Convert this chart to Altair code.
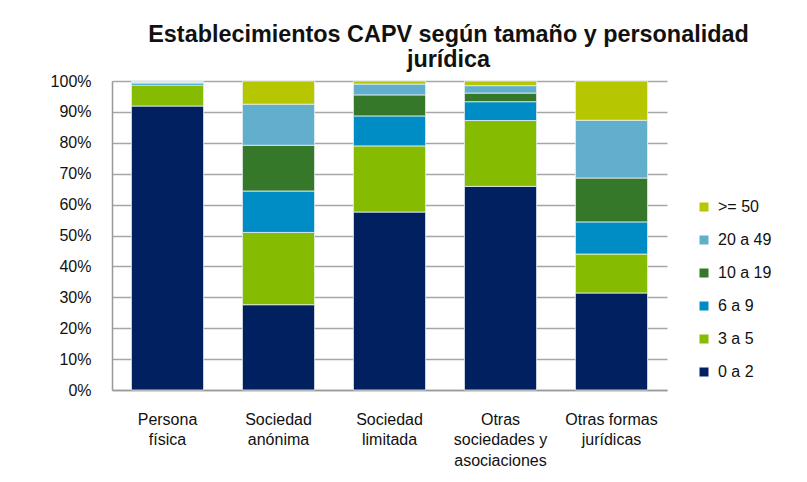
import altair as alt
import pandas as pd

categories = ["Persona\nfísica", "Sociedad\nanónima", "Sociedad\nlimitada",
              "Otras\nsociedades y\nasociaciones", "Otras formas\njurídicas"]
sizes = ["0 a 2", "3 a 5", "6 a 9", "10 a 19", "20 a 49", ">= 50"]
values = {
    "0 a 2":   [91.9, 27.6, 57.6, 65.9, 31.4],
    "3 a 5":   [6.8, 23.4, 21.4, 21.3, 12.6],
    "6 a 9":   [0.6, 13.4, 9.7, 6.1, 10.4],
    "10 a 19": [0.2, 14.8, 6.8, 2.8, 14.2],
    "20 a 49": [0.3, 13.3, 3.5, 2.4, 18.7],
    ">= 50":   [0.2, 7.5, 1.0, 1.5, 12.7],
}
colors = ["#00205F", "#85BB00", "#008CC4", "#35782A", "#62AFCD", "#B6C600"]

rows = []
for si, s in enumerate(sizes):
    for ci, c in enumerate(categories):
        rows.append({"cat": c, "size": s, "ord": si, "val": values[s][ci]})
df = pd.DataFrame(rows)

font = "Liberation Sans"

chart = alt.Chart(df).mark_bar(stroke="#E8F0F4", strokeWidth=0.8).encode(
    x=alt.X("cat:N", sort=categories, title=None,
            scale=alt.Scale(paddingInner=0.35, paddingOuter=0.175),
            axis=alt.Axis(labelAngle=0, labelExpr="split(datum.label, '\\n')",
                          labelFontSize=16, labelLineHeight=20.5, labelPadding=21,
                          labelColor="#111", ticks=False, domainColor="#999",
                          domainWidth=1.5, labelFont=font, labelBaseline="top")),
    y=alt.Y("val:Q", stack="normalize", title=None,
            scale=alt.Scale(domain=[0, 1]),
            axis=alt.Axis(format=".0%", values=[i / 10 for i in range(11)],
                          labelFontSize=16, labelPadding=21, labelColor="#111",
                          ticks=False, gridColor="#A6A6A6", gridWidth=1.5,
                          domainColor="#999", domainWidth=1.5, labelFont=font)),
    color=alt.Color("size:N", title=None,
                    scale=alt.Scale(domain=sizes[::-1], range=colors[::-1]),
                    legend=alt.Legend(orient="none", legendX=584, legendY=118,
                                      symbolType="square", symbolSize=81,
                                      symbolStrokeWidth=0, labelFontSize=16,
                                      labelFont=font, labelColor="#111",
                                      rowPadding=17, labelOffset=6)),
    order=alt.Order("ord:Q", sort="ascending"),
).properties(
    width=555, height=309,
    title=alt.TitleParams(
        ["Establecimientos CAPV según tamaño y personalidad", "jurídica"],
        font=font, fontSize=23.4, fontWeight="bold", color="#111",
        anchor="middle", dx=59, offset=1, lineHeight=24.5),
    padding={"left": 42, "top": 15, "right": 5, "bottom": 5},
).configure_view(stroke=None).configure_axis(domain=True)

chart.save("out.html", embed_options={"renderer": "svg", "actions": False})
